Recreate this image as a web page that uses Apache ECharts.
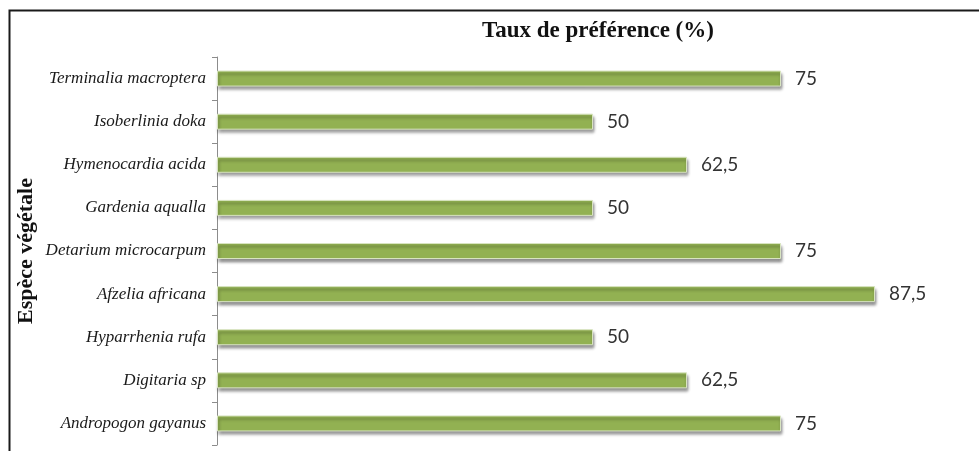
<!DOCTYPE html>
<html><head><meta charset="utf-8">
<script src="https://cdn.jsdelivr.net/npm/echarts@6/dist/echarts.min.js"></script>
<style>html,body{margin:0;padding:0;background:#fff}#c{width:979px;height:451px}</style>
</head><body><div id="c"></div>
<script>
const categories = ["Terminalia macroptera","Isoberlinia doka","Hymenocardia acida","Gardenia aqualla","Detarium microcarpum","Afzelia africana","Hyparrhenia rufa","Digitaria sp","Andropogon gayanus"];
const values = [75, 50, 62.5, 50, 75, 87.5, 50, 62.5, 75];
const chartTitle = "Taux de préférence (%)";
const axisName = "Espèce végétale";

const chart = echarts.init(document.getElementById('c'), null, {renderer:'canvas'});
chart.setOption({
  animation:false,
  backgroundColor:'#fff',
  grid:{left:217, right:10, top:57, bottom:6, containLabel:false},
  xAxis:{type:'value', min:0, max:100, show:false},
  yAxis:{type:'category', data:categories, inverse:true,
    axisLine:{show:true, lineStyle:{color:'#8c8c8c', width:1}},
    axisTick:{show:true, length:5, lineStyle:{color:'#8c8c8c'}},
    axisLabel:{margin:11, fontFamily:'Liberation Serif', fontStyle:'italic', fontSize:17, color:'#1a1a1a'},
    splitLine:{show:false}
  },
  series:[{type:'bar', data:values, barWidth:16,
    itemStyle:{color:'#92b152', borderColor:'#d8e4c0', borderWidth:1, shadowColor:'rgba(0,0,0,0.45)', shadowBlur:3, shadowOffsetY:3, shadowOffsetX:1},
    label:{show:true, position:'right', distance:14, fontFamily:'Lato', fontSize:19, color:'#333',
      formatter:p=>String(p.value).replace('.', ',')}
  }],
  graphic:[
    {type:'rect', silent:true, shape:{x:9.5, y:10.5, width:1000, height:500}, style:{fill:null, stroke:'#1a1a1a', lineWidth:2}},
    {type:'text', x:598, y:31, style:{text:chartTitle, textAlign:'center', textVerticalAlign:'middle', font:'bold 23px "Liberation Serif"', fill:'#111'}},
    {type:'text', x:26, y:251, rotation:Math.PI/2, style:{text:axisName, textAlign:'center', textVerticalAlign:'middle', font:'bold 22px "Liberation Serif"', fill:'#111'}}
  ]
});
</script></body></html>
